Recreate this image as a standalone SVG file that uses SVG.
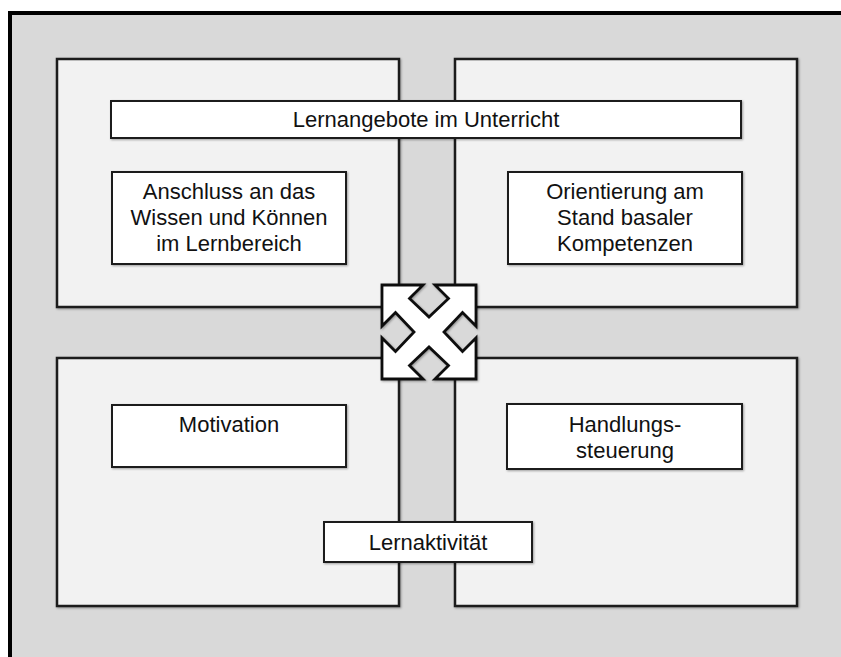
<svg xmlns="http://www.w3.org/2000/svg" width="841" height="657" viewBox="0 0 841 657">
<defs>
<filter id="sh" x="-10%" y="-10%" width="120%" height="120%">
<feDropShadow dx="1" dy="1" stdDeviation="1" flood-color="#000" flood-opacity="0.35"/>
</filter>
</defs>
<style>
.panel{fill:#f2f2f2;stroke:#1a1a1a;stroke-width:2.5}
.box{fill:#ffffff;stroke:#1a1a1a;stroke-width:2}
.t{font-family:"Liberation Sans",Arial,sans-serif;font-size:22px;fill:#111;text-anchor:middle}
</style>
<rect x="0" y="0" width="841" height="657" fill="#ffffff"/>
<g id="frame">
<rect x="10" y="13" width="845" height="660" fill="#d9d9d9" stroke="#000" stroke-width="4"/>
</g>
<g id="panels">
<rect id="panel-tl" class="panel" x="57" y="59" width="342" height="248" filter="url(#sh)"/>
<rect id="panel-tr" class="panel" x="455" y="59" width="342" height="248" filter="url(#sh)"/>
<rect id="panel-bl" class="panel" x="57" y="358" width="342" height="248" filter="url(#sh)"/>
<rect id="panel-br" class="panel" x="455" y="358" width="342" height="248" filter="url(#sh)"/>
</g>
<g id="lernangebote">
<rect class="box" x="111" y="101" width="630" height="37" filter="url(#sh)"/>
<text class="t" x="426" y="127">Lernangebote im Unterricht</text>
</g>
<g id="anschluss">
<rect class="box" x="112" y="172" width="234" height="92" filter="url(#sh)"/>
<text class="t" x="229" y="199">Anschluss an das</text>
<text class="t" x="229" y="225">Wissen und Können</text>
<text class="t" x="229" y="251">im Lernbereich</text>
</g>
<g id="orientierung">
<rect class="box" x="508" y="172" width="234" height="92" filter="url(#sh)"/>
<text class="t" x="625" y="199">Orientierung am</text>
<text class="t" x="625" y="225">Stand basaler</text>
<text class="t" x="625" y="251">Kompetenzen</text>
</g>
<g id="motivation">
<rect class="box" x="112" y="405" width="234" height="62" filter="url(#sh)"/>
<text class="t" x="229" y="432">Motivation</text>
</g>
<g id="handlungssteuerung">
<rect class="box" x="507" y="404" width="235" height="65" filter="url(#sh)"/>
<text class="t" x="625" y="432">Handlungs-</text>
<text class="t" x="625" y="458">steuerung</text>
</g>
<g id="lernaktivitaet">
<rect class="box" x="324" y="522" width="208" height="40" filter="url(#sh)"/>
<text class="t" x="428" y="550">Lernaktivität</text>
</g>
<g id="connectors">
<path transform="translate(429,332)" filter="url(#sh)" fill="#ffffff" stroke="#111" stroke-width="2.8" stroke-linejoin="miter"
d="M-47,-47 L-6,-47 L-19.5,-33.5 L0,-15 L19.5,-33.5 L6,-47 L47,-47 L47,-6 L33.5,-19.5 L15,0 L33.5,19.5 L47,6 L47,47 L6,47 L19.5,33.5 L0,15 L-19.5,33.5 L-6,47 L-47,47 L-47,6 L-33.5,19.5 L-15,0 L-33.5,-19.5 L-47,-6 Z"/>
</g>
</svg>
